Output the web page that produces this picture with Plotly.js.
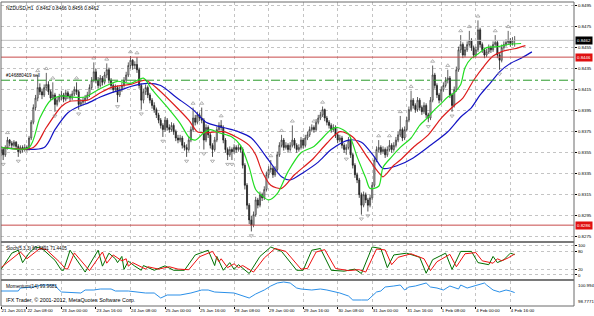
<!DOCTYPE html>
<html><head><meta charset="utf-8">
<script src="https://cdn.plot.ly/plotly-3.0.1.min.js"></script>
<style>html,body{margin:0;padding:0;background:#fff}#chart{width:594px;height:316px}</style>
</head><body><div id="chart"></div>
<script>
// ---- x axis (bar index) tick labels ----
const tickIdx = [0,12,28,44,60,76,92,108,124,140,156,172,188,204,220,236];
const tickText = ["21 Jan 2013","22 Jan 08:00","23 Jan 00:00","23 Jan 16:00","24 Jan 08:00","25 Jan 00:00","25 Jan 16:00","28 Jan 08:00","29 Jan 00:00","29 Jan 16:00","30 Jan 08:00","31 Jan 00:00","31 Jan 16:00","1 Feb 08:00","4 Feb 00:00","4 Feb 16:00"];
const priceTicks = [0.8275,0.8295,0.8315,0.8335,0.8355,0.8375,0.8395,0.8415,0.8435,0.8455,0.8475,0.8495];

// ---- NZDUSD H1 candles ----
const O = [.8355,.8358,.8353,.8360,.8367,.8364,.8362,.8365,.8361,.8356,
.8360,.8358,.8360,.8359,.8369,.8384,.8398,.8407,.8417,.8413,
.8410,.8417,.8420,.8413,.8407,.8410,.8401,.8405,.8408,.8410,
.8406,.8412,.8409,.8407,.8411,.8415,.8413,.8401,.8403,.8405,
.8407,.8410,.8417,.8424,.8432,.8424,.8419,.8426,.8422,.8429,
.8434,.8424,.8419,.8415,.8417,.8410,.8415,.8419,.8424,.8429,
.8438,.8443,.8438,.8439,.8434,.8419,.8405,.8413,.8417,.8410,
.8405,.8400,.8396,.8391,.8386,.8381,.8377,.8386,.8379,.8377,
.8381,.8375,.8369,.8367,.8369,.8362,.8360,.8358,.8367,.8377,
.8388,.8384,.8391,.8388,.8386,.8367,.8379,.8372,.8362,.8358,
.8367,.8377,.8381,.8379,.8367,.8358,.8353,.8358,.8356,.8360,
.8358,.8360,.8358,.8343,.8324,.8305,.8291,.8286,.8296,.8310,
.8305,.8315,.8312,.8320,.8334,.8339,.8340,.8334,.8339,.8353,
.8362,.8367,.8360,.8362,.8358,.8362,.8367,.8362,.8358,.8360,
.8367,.8362,.8369,.8372,.8377,.8379,.8377,.8384,.8388,.8391,
.8396,.8388,.8384,.8381,.8377,.8379,.8372,.8367,.8369,.8362,
.8358,.8360,.8367,.8353,.8343,.8334,.8329,.8315,.8305,.8315,
.8310,.8305,.8312,.8324,.8348,.8358,.8360,.8356,.8358,.8353,
.8358,.8362,.8358,.8362,.8367,.8372,.8377,.8369,.8377,.8386,
.8396,.8405,.8400,.8396,.8405,.8398,.8394,.8400,.8391,.8388,
.8405,.8429,.8419,.8410,.8405,.8415,.8419,.8424,.8426,.8410,
.8400,.8415,.8434,.8453,.8458,.8448,.8453,.8458,.8462,.8455,
.8448,.8453,.8472,.8458,.8453,.8448,.8451,.8455,.8453,.8458,
.8460,.8448,.8443,.8455,.8458,.8460,.8462,.8459,.8462];
const H = [.8361,.8360,.8362,.8370,.8368,.8366,.8367,.8366,.8363,.8362,
.8362,.8363,.8362,.8371,.8386,.8401,.8410,.8429,.8421,.8416,
.8420,.8431,.8423,.8415,.8422,.8412,.8408,.8411,.8414,.8412,
.8415,.8414,.8411,.8414,.8418,.8422,.8415,.8406,.8408,.8410,
.8413,.8420,.8427,.8441,.8435,.8427,.8429,.8428,.8432,.8440,
.8436,.8426,.8421,.8420,.8419,.8418,.8422,.8427,.8432,.8441,
.8447,.8444,.8442,.8446,.8436,.8421,.8416,.8420,.8419,.8412,
.8407,.8403,.8398,.8393,.8388,.8383,.8389,.8388,.8382,.8384,
.8383,.8377,.8372,.8372,.8371,.8365,.8363,.8370,.8380,.8398,
.8391,.8394,.8393,.8398,.8388,.8382,.8381,.8374,.8364,.8370,
.8380,.8384,.8386,.8381,.8369,.8360,.8361,.8360,.8363,.8362,
.8363,.8362,.8360,.8345,.8326,.8307,.8295,.8299,.8313,.8312,
.8318,.8317,.8323,.8337,.8342,.8348,.8342,.8342,.8356,.8365,
.8372,.8369,.8365,.8364,.8365,.8381,.8369,.8364,.8363,.8370,
.8369,.8372,.8375,.8380,.8382,.8381,.8387,.8391,.8394,.8399,
.8397,.8390,.8386,.8383,.8382,.8381,.8374,.8372,.8371,.8364,
.8363,.8370,.8369,.8355,.8345,.8336,.8331,.8317,.8318,.8317,
.8312,.8315,.8327,.8351,.8361,.8367,.8362,.8361,.8360,.8361,
.8367,.8364,.8365,.8370,.8375,.8390,.8379,.8380,.8389,.8399,
.8414,.8407,.8402,.8408,.8407,.8400,.8403,.8402,.8393,.8408,
.8438,.8431,.8421,.8412,.8418,.8422,.8427,.8434,.8428,.8412,
.8418,.8437,.8456,.8467,.8460,.8456,.8461,.8471,.8464,.8457,
.8456,.8481,.8474,.8460,.8455,.8454,.8458,.8457,.8461,.8467,
.8462,.8450,.8458,.8461,.8463,.8471,.8464,.8465,.8466];
const L = [.8352,.8348,.8351,.8358,.8361,.8359,.8360,.8358,.8351,.8354,
.8355,.8356,.8356,.8357,.8367,.8382,.8395,.8404,.8410,.8406,
.8408,.8414,.8410,.8404,.8405,.8394,.8399,.8403,.8405,.8403,
.8404,.8406,.8404,.8405,.8409,.8410,.8396,.8399,.8400,.8402,
.8405,.8408,.8415,.8422,.8421,.8416,.8417,.8419,.8420,.8426,
.8421,.8416,.8412,.8413,.8403,.8408,.8413,.8417,.8422,.8427,
.8435,.8434,.8435,.8431,.8416,.8396,.8402,.8410,.8407,.8402,
.8397,.8393,.8388,.8383,.8378,.8370,.8375,.8376,.8374,.8375,
.8372,.8366,.8364,.8365,.8359,.8357,.8351,.8356,.8365,.8375,
.8381,.8382,.8385,.8383,.8358,.8365,.8369,.8359,.8351,.8356,
.8365,.8375,.8376,.8364,.8355,.8348,.8351,.8348,.8354,.8355,
.8356,.8355,.8340,.8320,.8301,.8287,.8280,.8284,.8294,.8302,
.8303,.8309,.8310,.8318,.8331,.8336,.8331,.8332,.8337,.8351,
.8360,.8357,.8358,.8355,.8356,.8360,.8359,.8355,.8356,.8358,
.8359,.8360,.8367,.8370,.8375,.8374,.8375,.8382,.8386,.8389,
.8385,.8381,.8378,.8374,.8375,.8369,.8364,.8365,.8359,.8355,
.8353,.8358,.8350,.8340,.8331,.8326,.8312,.8296,.8303,.8307,
.8299,.8303,.8310,.8322,.8346,.8355,.8353,.8354,.8350,.8351,
.8356,.8355,.8356,.8360,.8365,.8370,.8366,.8367,.8375,.8384,
.8394,.8397,.8393,.8394,.8395,.8391,.8392,.8388,.8384,.8386,
.8403,.8416,.8407,.8402,.8403,.8413,.8417,.8421,.8407,.8394,
.8398,.8413,.8432,.8450,.8445,.8446,.8451,.8456,.8452,.8445,
.8446,.8451,.8455,.8450,.8445,.8446,.8449,.8450,.8451,.8456,
.8445,.8434,.8441,.8453,.8456,.8458,.8456,.8457,.8456];
const C = [.8358,.8353,.8360,.8367,.8364,.8362,.8365,.8361,.8356,.8360,
.8358,.8360,.8359,.8369,.8384,.8398,.8407,.8417,.8413,.8410,
.8417,.8420,.8413,.8407,.8410,.8401,.8405,.8408,.8410,.8406,
.8412,.8409,.8407,.8411,.8415,.8413,.8401,.8403,.8405,.8407,
.8410,.8417,.8424,.8432,.8424,.8419,.8426,.8422,.8429,.8434,
.8424,.8419,.8415,.8417,.8410,.8415,.8419,.8424,.8429,.8438,
.8443,.8438,.8439,.8434,.8419,.8405,.8413,.8417,.8410,.8405,
.8400,.8396,.8391,.8386,.8381,.8377,.8386,.8379,.8377,.8381,
.8375,.8369,.8367,.8369,.8362,.8360,.8358,.8367,.8377,.8388,
.8384,.8391,.8388,.8386,.8367,.8379,.8372,.8362,.8358,.8367,
.8377,.8381,.8379,.8367,.8358,.8353,.8358,.8356,.8360,.8358,
.8360,.8358,.8343,.8324,.8305,.8291,.8286,.8296,.8310,.8305,
.8315,.8312,.8320,.8334,.8339,.8340,.8334,.8339,.8353,.8362,
.8367,.8360,.8362,.8358,.8362,.8367,.8362,.8358,.8360,.8367,
.8362,.8369,.8372,.8377,.8379,.8377,.8384,.8388,.8391,.8396,
.8388,.8384,.8381,.8377,.8379,.8372,.8367,.8369,.8362,.8358,
.8360,.8367,.8353,.8343,.8334,.8329,.8315,.8305,.8315,.8310,
.8305,.8312,.8324,.8348,.8358,.8360,.8356,.8358,.8353,.8358,
.8362,.8358,.8362,.8367,.8372,.8377,.8369,.8377,.8386,.8396,
.8405,.8400,.8396,.8405,.8398,.8394,.8400,.8391,.8388,.8405,
.8429,.8419,.8410,.8405,.8415,.8419,.8424,.8426,.8410,.8400,
.8415,.8434,.8453,.8458,.8448,.8453,.8458,.8462,.8455,.8448,
.8453,.8472,.8458,.8453,.8448,.8451,.8455,.8453,.8458,.8460,
.8448,.8443,.8455,.8458,.8460,.8462,.8459,.8462,.8462];

// ---- Alligator (jaw blue, teeth red, lips green), read at sample bars ----
const jawX = [0,20,25,31,36,40,46,51,56,60,68,74,81,89,95,103,110,116,124,130,134,140,147,153,161,167,173,177,184,191,199,207,213,218,222,227,231,236,241,246];
const jawY = [.8360,.8360,.8377,.8393,.8399,.8402,.8408,.8412,.8415,.8418,.8421,.8419,.8408,.8396,.8384,.8379,.8375,.8369,.8348,.8332,.8329,.8336,.8346,.8358,.8367,.8365,.8351,.8340,.8343,.8350,.8362,.8375,.8389,.8398,.8410,.8422,.8432,.8440,.8445,.8451];
const teethX = [0,15,21,28,32,40,46,51,56,60,67,73,81,87,91,95,103,109,115,118,121,125,130,136,144,151,157,163,170,175,177,182,185,191,198,204,210,214,219,224,228,233,238,243];
const teethY = [.8360,.8360,.8379,.8399,.8404,.8405,.8412,.8417,.8419,.8420,.8424,.8415,.8399,.8386,.8375,.8374,.8375,.8370,.8362,.8353,.8337,.8324,.8321,.8334,.8348,.8364,.8375,.8370,.8350,.8336,.8332,.8343,.8348,.8360,.8372,.8388,.8400,.8407,.8424,.8438,.8447,.8452,.8454,.8457];
const lipsX = [0,13,18,23,28,32,39,45,50,54,60,66,70,78,83,87,90,94,97,101,107,111,115,118,121,124,128,133,139,145,153,156,161,165,169,171,175,177,181,185,190,194,198,200,204,207,210,213,215,218,221,225,230,235,241];
const lipsY = [.8360,.8360,.8388,.8405,.8409,.8408,.8408,.8415,.8420,.8423,.8421,.8426,.8415,.8396,.8383,.8370,.8367,.8374,.8377,.8374,.8370,.8362,.8341,.8320,.8314,.8310,.8316,.8337,.8355,.8361,.8377,.8379,.8373,.8351,.8331,.8321,.8323,.8341,.8351,.8360,.8369,.8381,.8389,.8394,.8402,.8408,.8412,.8420,.8436,.8445,.8449,.8455,.8456,.8458,.8459];

// ---- Fractals (bar indices) ----
const fracUp = [3,17,21,24,35,43,49,60,63,89,93,102,125,130,135,145,149,175,180,185,190,200,207,213,217,221,229,235];
const fracDn = [1,8,25,36,54,65,75,86,94,98,105,107,116,160,167,170,198,209,231];

// ---- Horizontal levels ----
const redLevels = [0.8446, 0.8286];
const orderLevel = 0.8424;
const bidPrice = 0.8462;

// ---- Stochastic(5,3,3) ----
const stochMainX = [0,5,8,10,13,16,19,25,28,29,32,35,39,45,47,50,53,54,56,57,59,62,65,66,71,76,80,85,90,96,99,100,103,106,108,110,115,120,125,130,134,137,140,144,148,153,159,164,167,172,176,179,182,188,194,197,200,206,209,213,218,221,226,228,230,233,236,238];
const stochMainY = [19,74,84,42,74,95,90,50,16,16,84,52,10,84,30,74,55,42,63,19,47,30,16,32,16,31,16,16,68,84,32,63,16,42,19,35,5,63,95,80,45,16,16,84,90,16,13,20,5,95,90,25,68,74,60,6,52,74,19,80,80,42,35,63,42,52,74,69];
const stochSigX = [0,6,9,12,15,18,21,27,30,31,34,37,41,47,49,52,55,56,58,59,61,64,67,68,73,78,82,87,92,98,101,102,105,108,110,112,117,122,127,132,136,139,142,146,150,155,161,166,169,174,178,181,184,190,196,199,202,208,211,215,220,223,228,230,232,235,238];
const stochSigY = [25,60,78,55,72,90,86,45,20,22,75,50,15,78,40,68,52,48,55,30,42,30,20,28,20,28,20,18,62,80,45,55,25,38,25,32,10,58,90,80,45,20,22,78,86,22,15,18,10,88,85,35,60,72,55,15,45,70,28,72,76,48,40,55,48,58,71];
const stochTicks = [0,20,80,100];

// ---- Momentum(14) ----
const momX = [0,8,9,15,19,25,26,28,37,39,43,46,51,53,59,62,67,71,74,77,83,88,93,96,99,108,111,115,118,122,125,128,131,134,137,139,144,148,151,155,157,161,163,167,170,171,174,176,178,182,185,187,189,192,195,197,199,202,205,207,208,212,213,216,219,222,224,225,227,228,231,234,236,238];
const momY = [100.107,100.107,100.373,100.462,100.639,100.639,100.373,100.019,99.930,100.196,100.196,100.285,100.285,100.107,100.107,100.019,99.930,99.930,99.486,99.752,99.752,99.930,100.196,100.196,100.019,99.930,99.752,99.486,99.841,100.196,100.551,100.817,100.905,100.817,100.373,100.285,100.196,100.285,100.196,100.019,99.930,99.664,99.309,99.309,99.309,99.486,100.019,100.107,100.462,100.551,100.639,100.196,100.462,100.551,100.728,100.817,100.462,100.373,100.196,100.462,100.551,100.285,100.639,100.373,100.551,100.728,100.817,100.639,100.373,100.196,100.019,100.196,100.107,99.968];
const momMax = 100.994, momMin = 98.7771;

// ---- build ----
const idx = C.map((_, i) => i);
const FONT = 'Liberation Sans, Arial, sans-serif';
const upY = fracUp.map(i => H[i] + 0.0004);
const dnY = fracDn.map(i => L[i] - 0.0004);

const traces = [
  {type:'candlestick', x: idx, open:O, high:H, low:L, close:C, xaxis:'x', yaxis:'y',
   increasing:{line:{color:'#3a3a3a', width:0.8}, fillcolor:'#ffffff'},
   decreasing:{line:{color:'#222', width:0.8}, fillcolor:'#222'},
   whiskerwidth:0, hoverinfo:'skip', showlegend:false},
  {type:'scatter', mode:'lines', x:jawX, y:jawY, line:{color:'#1414c4', width:1.2, shape:'spline', smoothing:0.8}, yaxis:'y', hoverinfo:'skip'},
  {type:'scatter', mode:'lines', x:teethX, y:teethY, line:{color:'#dd1c1c', width:1.2, shape:'spline', smoothing:0.8}, yaxis:'y', hoverinfo:'skip'},
  {type:'scatter', mode:'lines', x:lipsX, y:lipsY, line:{color:'#22dd22', width:1.2, shape:'spline', smoothing:0.8}, yaxis:'y', hoverinfo:'skip'},
  {type:'scatter', mode:'markers', x:fracUp, y:upY, marker:{symbol:'triangle-up-open', size:3.5, color:'#a0a0a0', line:{width:0.8}}, yaxis:'y', hoverinfo:'skip'},
  {type:'scatter', mode:'markers', x:fracDn, y:dnY, marker:{symbol:'triangle-down-open', size:3.5, color:'#a0a0a0', line:{width:0.8}}, yaxis:'y', hoverinfo:'skip'},
  {type:'scatter', mode:'lines', x:stochMainX, y:stochMainY, line:{color:'#007000', width:1}, yaxis:'y2', hoverinfo:'skip'},
  {type:'scatter', mode:'lines', x:stochSigX, y:stochSigY, line:{color:'#ee1111', width:1}, yaxis:'y2', hoverinfo:'skip'},
  {type:'scatter', mode:'lines', x:momX, y:momY, line:{color:'#2a8fe8', width:1}, yaxis:'y3', hoverinfo:'skip'}
];

const gridC = '#c4c4c4';
const tf = {family:FONT, size:4.4, color:'#000'};
const layout = {
  width:594, height:316, margin:{l:1, r:20, t:2, b:10},
  paper_bgcolor:'#fff', plot_bgcolor:'#fff', showlegend:false,
  xaxis:{range:[0, 265.5], tickvals:tickIdx, ticktext:tickText, ticklabelposition:'outside right', tickangle:0,
    tickfont:tf, ticks:'outside', ticklen:2, tickcolor:'#000', showgrid:true, gridcolor:gridC, griddash:'dot', gridwidth:1,
    zeroline:false, anchor:'y3', rangeslider:{visible:false}, fixedrange:true, automargin:false},
  yaxis:{domain:[0.2138,1], range:[0.82709,0.84985], side:'right', tickvals:priceTicks, tickformat:'.4f',
    tickfont:tf, ticks:'outside', ticklen:2, tickcolor:'#000', showgrid:true, gridcolor:gridC, griddash:'dot', zeroline:false, fixedrange:true, automargin:false},
  yaxis2:{domain:[0.0888,0.2072], range:[-13.6,108.5], side:'right', tickvals:stochTicks,
    tickfont:tf, ticks:'outside', ticklen:2, tickcolor:'#000', showgrid:true, gridcolor:gridC, griddash:'dot', zeroline:false, fixedrange:true, automargin:false},
  yaxis3:{domain:[0,0.0822], range:[momMin,momMax], side:'right', showticklabels:false, ticks:'', showgrid:false, zeroline:false, fixedrange:true},
  shapes:[
    {type:'line', xref:'paper', x0:0, x1:1, yref:'y', y0:bidPrice, y1:bidPrice, line:{color:'#c0c0c0', width:1}},
    {type:'line', xref:'paper', x0:0, x1:1, yref:'y', y0:redLevels[0], y1:redLevels[0], line:{color:'#c84a4a', width:1}},
    {type:'line', xref:'paper', x0:0, x1:1, yref:'y', y0:redLevels[1], y1:redLevels[1], line:{color:'#c84a4a', width:1}},
    {type:'line', xref:'paper', x0:0, x1:1, yref:'y', y0:orderLevel, y1:orderLevel, line:{color:'#2a9a2a', width:1, dash:'dashdot'}},
    {type:'rect', xref:'paper', x0:0, x1:1, yref:'paper', y0:0.2072, y1:0.2138, fillcolor:'#7a7a7a', line:{width:0}},
    {type:'rect', xref:'paper', x0:0, x1:1, yref:'paper', y0:0.0822, y1:0.0888, fillcolor:'#7a7a7a', line:{width:0}},
    {type:'rect', xref:'paper', x0:0, x1:1, yref:'paper', y0:0, y1:1, line:{color:'#6a6a6a', width:1}}
  ],
  annotations:[
    {xref:'paper', yref:'paper', x:0, y:1, xanchor:'left', yanchor:'top', xshift:3, yshift:-2, showarrow:false,
     text:'NZDUSD,H1  0.8462 0.8466 0.8456 0.8462', font:{family:FONT, size:4.8, color:'#000'}},
    {xref:'paper', yref:'y', x:0, y:orderLevel, xanchor:'left', yanchor:'bottom', xshift:3, showarrow:false,
     text:'#146880419 sell', font:{family:FONT, size:4.6, color:'#000'}},
    {xref:'paper', yref:'y2 domain', x:0, y:1, xanchor:'left', yanchor:'top', xshift:3, yshift:-1, showarrow:false,
     text:'Stoch(5,3,3) 69.5891 71.4405', font:{family:FONT, size:4.6, color:'#000'}},
    {xref:'paper', yref:'y3 domain', x:0, y:1, xanchor:'left', yanchor:'top', xshift:3, yshift:-1, showarrow:false,
     text:'Momentum(14) 99.9681', font:{family:FONT, size:4.8, color:'#000'}},
    {xref:'paper', yref:'y3 domain', x:0, y:0, xanchor:'left', yanchor:'bottom', xshift:3, yshift:1, showarrow:false,
     text:'IFX Trader, © 2001-2012, MetaQuotes Software Corp.', font:{family:FONT, size:5.4, color:'#000'}},
    {xref:'paper', yref:'y3 domain', x:1, y:1, xanchor:'left', yanchor:'top', xshift:2, showarrow:false,
     text:String(momMax), font:tf},
    {xref:'paper', yref:'y3 domain', x:1, y:0, xanchor:'left', yanchor:'bottom', xshift:2, showarrow:false,
     text:String(momMin), font:tf},
    {xref:'paper', yref:'y', x:1, y:bidPrice, xanchor:'left', xshift:1, showarrow:false, bgcolor:'#000', borderpad:1,
     text:bidPrice.toFixed(4), font:{family:FONT, size:4.4, color:'#fff'}},
    {xref:'paper', yref:'y', x:1, y:redLevels[0], xanchor:'left', xshift:1, showarrow:false, bgcolor:'#e01010', borderpad:1,
     text:redLevels[0].toFixed(4), font:{family:FONT, size:4.4, color:'#fff'}},
    {xref:'paper', yref:'y', x:1, y:redLevels[1], xanchor:'left', xshift:1, showarrow:false, bgcolor:'#e01010', borderpad:1,
     text:redLevels[1].toFixed(4), font:{family:FONT, size:4.4, color:'#fff'}}
  ]
};
Plotly.newPlot('chart', traces, layout, {staticPlot:true, displayModeBar:false});
</script></body></html>
